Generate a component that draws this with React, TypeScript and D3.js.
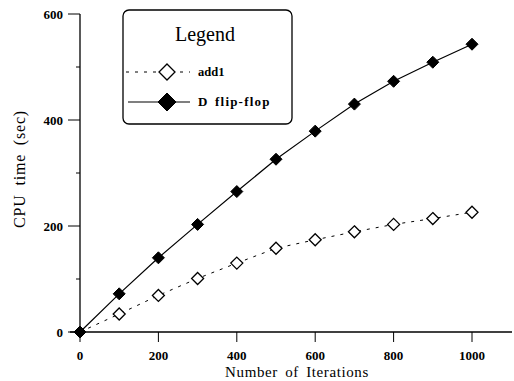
import React from "react";
import * as d3 from "d3";

const iterations = [0, 100, 200, 300, 400, 500, 600, 700, 800, 900, 1000];
const add1 = [0, 34, 69, 101, 130, 158, 174, 189, 203, 214, 226];
const dFlipFlop = [0, 72, 140, 203, 265, 326, 379, 430, 473, 509, 543];
const xTicks = [0, 200, 400, 600, 800, 1000];
const yTicks = [0, 200, 400, 600];
const yMinor = [100, 300, 500];

const W = 514, H = 381;
const x = d3.scaleLinear().domain([0, 1000]).range([80, 472]);
const y = d3.scaleLinear().domain([0, 600]).range([332, 14]);

const font = "'Liberation Serif', 'DejaVu Serif', serif";

function diamond(cx: number, cy: number, r: number) {
  return `M${cx},${cy - r}L${cx + r},${cy}L${cx},${cy + r}L${cx - r},${cy}Z`;
}

export default function App() {
  const line = d3.line<number>().x((_, i) => x(iterations[i])).y((v) => y(v));
  return (
    <svg width={W} height={H} style={{ position: "absolute", left: 0, top: 0, background: "#fff" }}>
      <g stroke="#000" fill="none">
        <line x1={80} x2={80} y1={14} y2={332} strokeWidth={1.3} />
        <line x1={70} x2={512} y1={332} y2={332} strokeWidth={1.3} />
        {yTicks.map((t) => (
          <line key={"yt" + t} x1={68} x2={80} y1={y(t)} y2={y(t)} strokeWidth={1} />
        ))}
        {yMinor.map((t) => (
          <line key={"ym" + t} x1={76} x2={80} y1={y(t)} y2={y(t)} strokeWidth={1} />
        ))}
        {xTicks.map((t) => (
          <line key={"xt" + t} x1={x(t)} x2={x(t)} y1={332} y2={342} strokeWidth={1} />
        ))}
      </g>
      <g fontFamily={font} fontWeight="bold" fontSize={13} fill="#000">
        {yTicks.map((t) => (
          <text key={"yl" + t} x={63} y={y(t) + 4.5} textAnchor="end">{t}</text>
        ))}
        {xTicks.map((t) => (
          <text key={"xl" + t} x={x(t)} y={360} textAnchor="middle">{t}</text>
        ))}
      </g>
      <text x={297} y={377} textAnchor="middle" fontFamily={font} fontSize={15} letterSpacing={0.6} wordSpacing={3}>
        Number of Iterations
      </text>
      <text
        transform="translate(25,169) rotate(-90)"
        textAnchor="middle"
        fontFamily={font}
        fontSize={16}
        letterSpacing={0.8}
        wordSpacing={4}
      >
        CPU time (sec)
      </text>

      <path d={line(add1) || ""} fill="none" stroke="#000" strokeWidth={1} strokeDasharray="3,6" />
      <path d={line(dFlipFlop) || ""} fill="none" stroke="#000" strokeWidth={1.2} />
      {add1.map((v, i) =>
        i === 0 ? null : (
          <path key={"a" + i} d={diamond(x(iterations[i]), y(v), 6)} fill="#fff" stroke="#000" strokeWidth={1.3} />
        )
      )}
      {dFlipFlop.map((v, i) => (
        <path key={"d" + i} d={diamond(x(iterations[i]), y(v), 6)} fill="#000" stroke="#000" strokeWidth={1} />
      ))}

      <rect x={123} y={10} width={169} height={114} rx={6} fill="#fff" stroke="#000" strokeWidth={1.3} />
      <text x={205} y={41} textAnchor="middle" fontFamily={font} fontSize={20}>Legend</text>
      <line x1={126} x2={190} y1={72} y2={72} stroke="#000" strokeDasharray="3,6" />
      <path d={diamond(167, 72, 8)} fill="#fff" stroke="#000" strokeWidth={1.3} />
      <text x={198} y={76} fontFamily={font} fontWeight="bold" fontSize={12.5}>add1</text>
      <line x1={128} x2={190} y1={102} y2={102} stroke="#000" strokeWidth={1.2} />
      <path d={diamond(167, 102, 9)} fill="#000" stroke="#000" />
      <text x={198} y={106} fontFamily={font} fontWeight="bold" fontSize={13} letterSpacing={1.2} wordSpacing={2}>D flip-flop</text>
    </svg>
  );
}
